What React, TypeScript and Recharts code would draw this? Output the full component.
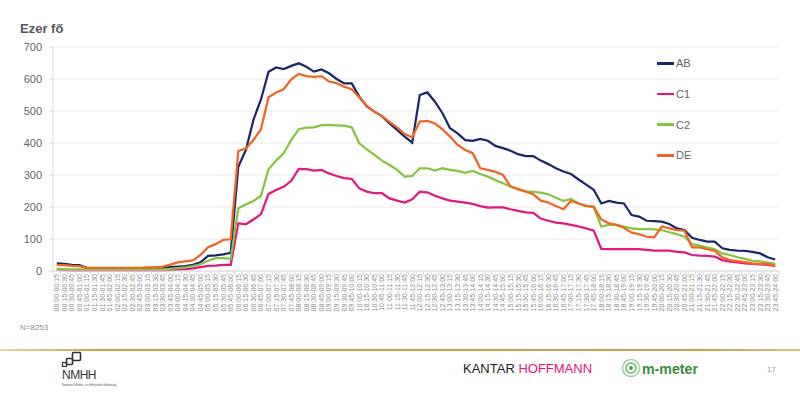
import React from 'react';
import { LineChart, Line, XAxis, YAxis, CartesianGrid } from 'recharts';

// 15 minute slots, 00:00-00:15 ... 23:45-24:00
const pad = (n: number) => String(n).padStart(2, '0');
const hm = (m: number) => `${pad(Math.floor(m / 60))}:${pad(m % 60)}`;
const timeSlots = Array.from({ length: 96 }, (_, i) => `${hm(i * 15)}-${hm(i * 15 + 15)}`);

// thousand persons
const ab = [
  24, 22, 19, 18, 10, 9, 9, 9, 9, 9,
  9, 9, 9, 10, 10, 12, 14, 15, 19, 27,
  47, 49, 52, 57, 326, 378, 472, 536, 623, 636,
  631, 641, 649, 638, 623, 630, 618, 600, 586, 586,
  545, 514, 498, 484, 461, 441, 420, 401, 550, 558,
  529, 493, 446, 430, 409, 407, 413, 407, 391, 384,
  376, 365, 359, 359, 345, 334, 321, 311, 303, 286,
  270, 254, 211, 219, 214, 211, 175, 170, 157, 156,
  154, 147, 133, 128, 104, 97, 92, 92, 71, 66,
  64, 63, 60, 55, 43, 36,
];
const c1 = [
  5, 3, 2, 2, 2, 2, 2, 2, 2, 2,
  2, 2, 2, 2, 2, 3, 4, 6, 8, 12,
  16, 17, 19, 19, 149, 146, 161, 178, 241, 253,
  263, 282, 319, 318, 314, 316, 305, 297, 290, 288,
  258, 248, 243, 243, 227, 220, 214, 224, 248, 246,
  235, 227, 220, 217, 214, 210, 203, 198, 199, 199,
  193, 188, 183, 182, 164, 157, 151, 149, 144, 139,
  133, 126, 69, 68, 68, 68, 68, 68, 66, 64,
  64, 64, 60, 58, 50, 48, 47, 45, 34, 29,
  27, 24, 22, 21, 19, 16,
];
const c2 = [
  7, 6, 5, 5, 5, 5, 5, 5, 5, 5,
  5, 5, 5, 5, 5, 7, 9, 11, 15, 21,
  32, 40, 40, 38, 196, 208, 219, 235, 318, 345,
  368, 409, 443, 448, 449, 456, 456, 455, 454, 449,
  399, 380, 363, 345, 331, 316, 295, 297, 321, 321,
  314, 321, 316, 313, 307, 313, 303, 295, 284, 274,
  264, 256, 249, 247, 245, 240, 229, 219, 225, 211,
  204, 199, 139, 144, 144, 139, 133, 131, 131, 130,
  128, 121, 115, 107, 84, 79, 74, 68, 55, 50,
  43, 38, 32, 30, 26, 22,
];
const de = [
  18, 18, 16, 15, 10, 10, 10, 10, 10, 10,
  10, 10, 11, 11, 14, 20, 27, 30, 33, 50,
  74, 84, 97, 99, 375, 383, 409, 443, 543, 558,
  568, 599, 616, 609, 607, 609, 592, 587, 576, 568,
  542, 516, 498, 484, 466, 449, 428, 418, 467, 469,
  461, 443, 420, 394, 378, 368, 321, 316, 310, 300,
  264, 256, 248, 240, 220, 214, 203, 193, 219, 211,
  203, 201, 161, 149, 144, 135, 120, 115, 107, 105,
  139, 133, 128, 126, 74, 74, 68, 63, 43, 34,
  31, 28, 24, 22, 22, 16,
];
const yTicks = [0, 100, 200, 300, 400, 500, 600, 700];

const series = [
  { key: 'AB', values: ab, color: '#1b2866' },
  { key: 'C1', values: c1, color: '#e4167f' },
  { key: 'C2', values: c2, color: '#86c43f' },
  { key: 'DE', values: de, color: '#f06522' },
];

const data = timeSlots.map((slot, i) => {
  const row: Record<string, any> = { slot };
  series.forEach(s => { row[s.key] = s.values[i]; });
  return row;
});

const FONT = '"Liberation Sans", Arial, sans-serif';
const PLOT_W = 726;
const SLOT = PLOT_W / 96;

// rotated slot label plus the small tick between categories
const TimeTick = (props: any) => {
  const { x, y, payload, index } = props;
  return (
    <g transform={`translate(${x},${y})`}>
      <line x1={-SLOT / 2} x2={-SLOT / 2} y1={0} y2={4} stroke="#d9d9d9" />
      {index === timeSlots.length - 1 && (
        <line x1={SLOT / 2} x2={SLOT / 2} y1={0} y2={4} stroke="#d9d9d9" />
      )}
      <text
        transform="rotate(-90)"
        x={-3}
        y={0}
        dy="0.35em"
        textAnchor="end"
        fontSize={7}
        fontFamily={FONT}
        fill="#8c8c8c"
      >
        {payload.value}
      </text>
    </g>
  );
};

export default function App() {
  return (
    <div style={{ position: 'relative', width: 800, height: 393, background: '#fff', overflow: 'hidden' }}>
      <style>{'body{margin:0}'}</style>
      <LineChart
        width={800}
        height={340}
        data={data}
        margin={{ top: 47, right: 21, bottom: 0, left: 0 }}
        style={{ position: 'absolute', left: 0, top: 0 }}
      >
        <CartesianGrid vertical={false} stroke="#ececec" />
        <XAxis
          dataKey="slot"
          interval={0}
          height={69}
          padding={{ left: SLOT / 2, right: SLOT / 2 }}
          axisLine={{ stroke: '#d9d9d9' }}
          tickLine={false}
          tickSize={0}
          tickMargin={0}
          tick={<TimeTick />}
        />
        <YAxis
          domain={[0, 700]}
          ticks={yTicks}
          interval={0}
          width={53}
          axisLine={{ stroke: '#d9d9d9' }}
          tickLine={{ stroke: '#d9d9d9' }}
          tickSize={4}
          tickMargin={7}
          tick={{ fontSize: 11, fill: '#666', fontFamily: FONT }}
        />
        {series.map(s => (
          <Line
            key={s.key}
            type="linear"
            dataKey={s.key}
            stroke={s.color}
            strokeWidth={2.25}
            dot={false}
            activeDot={false}
            isAnimationActive={false}
          />
        ))}
      </LineChart>

      {/* legend */}
      <div style={{ position: 'absolute', left: 657, top: 48, fontFamily: FONT }}>
        {series.map(s => (
          <div key={s.key} style={{ display: 'flex', alignItems: 'center', height: 30.7 }}>
            <span style={{ display: 'inline-block', width: 17, height: 2.5, background: s.color }} />
            <span style={{ fontSize: 11, color: '#666', marginLeft: 2 }}>{s.key}</span>
          </div>
        ))}
      </div>

      <svg width={800} height={393} style={{ position: 'absolute', left: 0, top: 0, pointerEvents: 'none' }}>
        <defs>
          <linearGradient id="gold" x1="0" x2="1" y1="0" y2="0">
            <stop offset="0" stopColor="#e8d7a6" />
            <stop offset="0.12" stopColor="#c9a24b" />
            <stop offset="0.88" stopColor="#c9a24b" />
            <stop offset="1" stopColor="#dcc17f" />
          </linearGradient>
        </defs>
        <text x={20} y={33} fontSize={13} fontWeight="bold" fill="#595959" fontFamily={FONT}>
          Ezer fő
        </text>
        <text x={20} y={330} fontSize={8} fill="#8c8c8c" fontFamily={FONT}>
          N=8253
        </text>
        <rect x={0} y={349} width={800} height={2} fill="url(#gold)" />

        {/* NMHH logo */}
        <rect x={72.5} y={352.5} width={8} height={8} rx={1} fill="none" stroke="#333" strokeWidth={1.6} />
        <rect x={66.5} y={358.5} width={6} height={6} rx={1} fill="none" stroke="#333" strokeWidth={1.6} />
        <rect x={62.5} y={362.5} width={4} height={4} fill="none" stroke="#333" strokeWidth={1.2} />
        <text x={62} y={379} fontSize={12} fill="#333" fontFamily={FONT} letterSpacing={-0.5}>
          NMHH
        </text>
        <text x={62} y={386} fontSize={3.2} fill="#555" fontFamily={FONT}>
          Nemzeti Média- és Hírközlési Hatóság
        </text>

        {/* Kantar Hoffmann */}
        <text x={463} y={373} fontSize={13} fontFamily={FONT}>
          <tspan fill="#222">KANTAR </tspan>
          <tspan fill="#e6117e">HOFFMANN</tspan>
        </text>

        {/* m-meter */}
        <circle cx={631} cy={368} r={8.5} fill="none" stroke="#9fcf9f" strokeWidth={1.5} />
        <circle cx={631} cy={368} r={5} fill="none" stroke="#6ab36b" strokeWidth={1.5} />
        <circle cx={631} cy={368} r={2} fill="#4d9a4e" />
        <text x={642} y={374} fontSize={15} fontWeight="bold" fill="#3d8a3f" fontFamily={FONT} textLength={56} lengthAdjust="spacingAndGlyphs">
          m-meter
        </text>

        <text x={767} y={372} fontSize={8} fill="#999" fontFamily={FONT}>
          17
        </text>
      </svg>
    </div>
  );
}
